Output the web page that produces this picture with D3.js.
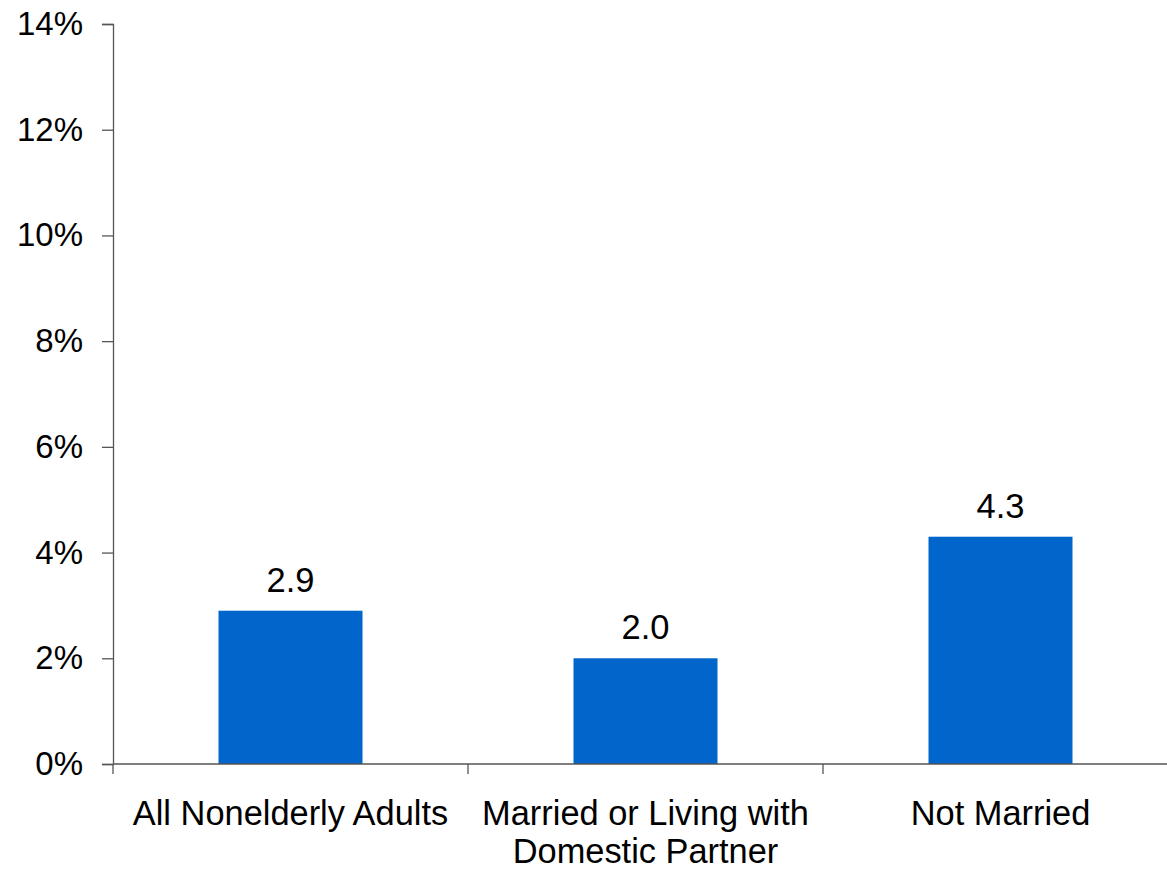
<!DOCTYPE html>
<html><head><meta charset="utf-8">
<script src="https://cdn.jsdelivr.net/npm/d3@7"></script>
<style>html,body{margin:0;padding:0;background:#fff}svg{display:block;font-family:"Liberation Sans",Arial,sans-serif}</style>
</head><body><svg id="c" width="1167" height="875"></svg>
<script>
const categories = ["All Nonelderly Adults", "Married or Living with\nDomestic Partner", "Not Married"];
const values = [2.9, 2.0, 4.3];
const yTicks = [0, 2, 4, 6, 8, 10, 12, 14];

(function () {
const svg = d3.select("#c");
const mLeft = 113, mRight = 1178, mTop = 24, mBottom = 764;
const x = d3.scaleBand().domain(categories).range([mLeft, mRight]).paddingInner(0).paddingOuter(0);
const y = d3.scaleLinear().domain([0, 14]).range([mBottom, mTop]);
const barW = 144;
const axisColor = "#555";

// y axis
const ya = svg.append("g").attr("transform", `translate(${mLeft},0)`)
  .call(d3.axisLeft(y).tickValues(yTicks).tickFormat(d => d + "%").tickSize(11).tickPadding(19));
ya.select(".domain").attr("stroke", axisColor).attr("stroke-width", 1.3);
ya.selectAll(".tick line").attr("stroke", axisColor).attr("stroke-width", 1.3);
ya.selectAll(".tick text").attr("font-size", 33).attr("fill", "#000").attr("font-family", "Liberation Sans, Arial, sans-serif");

// bars
svg.selectAll("rect.bar").data(categories).enter().append("rect")
  .attr("class", "bar")
  .attr("x", (d) => x(d) + x.bandwidth() / 2 - barW / 2)
  .attr("width", barW)
  .attr("y", (d, i) => y(values[i]))
  .attr("height", (d, i) => y(0) - y(values[i]))
  .attr("fill", "#0066CC");

// x axis
svg.append("line").attr("x1", mLeft).attr("x2", mRight).attr("y1", mBottom).attr("y2", mBottom)
  .attr("stroke", axisColor).attr("stroke-width", 1.3);
const bounds = [mLeft].concat(categories.slice(1).map(d => x(d)));
svg.selectAll("line.xt").data(bounds).enter().append("line").attr("class", "xt")
  .attr("x1", d => d).attr("x2", d => d).attr("y1", mBottom).attr("y2", mBottom + 10)
  .attr("stroke", axisColor).attr("stroke-width", 1.3);

// category labels
const lab = svg.selectAll("text.cat").data(categories).enter().append("text").attr("class", "cat")
  .attr("text-anchor", "middle").attr("font-size", 34.4).attr("fill", "#000")
  .attr("x", d => x(d) + x.bandwidth() / 2).attr("y", 825);
lab.each(function(d) {
  const lines = d.split("\n");
  const t = d3.select(this);
  lines.forEach((l, i) => {
    t.append("tspan").attr("x", x(d) + x.bandwidth() / 2).attr("dy", i === 0 ? 0 : 38).text(l);
  });
});

// value labels
svg.selectAll("text.val").data(categories).enter().append("text").attr("class", "val")
  .attr("text-anchor", "middle").attr("font-size", 34.5).attr("fill", "#000")
  .attr("x", d => x(d) + x.bandwidth() / 2)
  .attr("y", (d, i) => y(values[i]) - 19)
  .text((d, i) => values[i].toFixed(1));
})();
</script></body></html>
